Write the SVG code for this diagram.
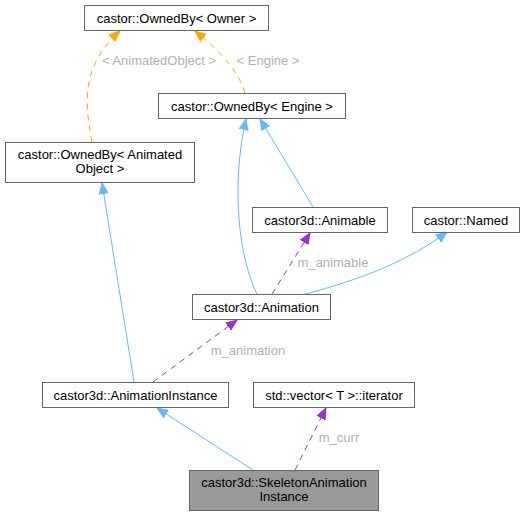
<svg xmlns="http://www.w3.org/2000/svg" width="524" height="516" viewBox="0 0 524 516">
<style>
.n{fill:#fff;stroke:#666;stroke-width:1}
.t{font-family:"Liberation Sans",Arial,sans-serif;font-size:13px;fill:#000;text-anchor:middle}
.l{font-family:"Liberation Sans",Arial,sans-serif;font-size:13px;fill:#b0b0b0;text-anchor:middle}
.b{fill:none;stroke:#63b8ff;stroke-width:1}
.o{fill:none;stroke:#ffa500;stroke-width:1;stroke-dasharray:6,5}
.p{fill:none;stroke:#9a32cd;stroke-width:1;stroke-dasharray:6,5}
</style>
<defs>
<marker id="ab" markerUnits="userSpaceOnUse" markerWidth="12" markerHeight="10" refX="11" refY="5" orient="auto"><path d="M0,0.5 L11,5 L0,9.5 z" fill="#63b8ff" stroke="#63b8ff"/></marker>
<marker id="ao" markerUnits="userSpaceOnUse" markerWidth="12" markerHeight="10" refX="11" refY="5" orient="auto"><path d="M0,0.5 L11,5 L0,9.5 z" fill="#ffa500" stroke="#ffa500"/></marker>
<marker id="ap" markerUnits="userSpaceOnUse" markerWidth="12" markerHeight="10" refX="11" refY="5" orient="auto"><path d="M0,0.5 L11,5 L0,9.5 z" fill="#9a32cd" stroke="#9a32cd"/></marker>
</defs>
<g id="edges">
<path class="o" d="M92,142 C84,100 82,65 120,31" marker-end="url(#ao)"/>
<path class="o" d="M245,93 C240,75 225,55 195,31" marker-end="url(#ao)"/>
<path class="b" d="M257,294 C240,260 230,190 246,119" marker-end="url(#ab)"/>
<path class="b" d="M313,207 L260,119" marker-end="url(#ab)"/>
<path class="b" d="M305,294 C360,280 410,260 447,232" marker-end="url(#ab)"/>
<path class="p" d="M272,294 L310,233" marker-end="url(#ap)"/>
<path class="b" d="M134,382 L102,183" marker-end="url(#ab)"/>
<path class="p" d="M153,382 L237,320" marker-end="url(#ap)"/>
<path class="b" d="M253,470 L157,408" marker-end="url(#ab)"/>
<path class="p" d="M295,470 L326,408" marker-end="url(#ap)"/>
<text class="l" x="159" y="65">&lt; AnimatedObject &gt;</text>
<text class="l" x="268" y="65">&lt; Engine &gt;</text>
<text class="l" x="333" y="267">m_animable</text>
<text class="l" x="248" y="355">m_animation</text>
<text class="l" x="339" y="442">m_curr</text>
</g>
<g id="ownedByOwner"><rect class="n" x="84.5" y="5.5" width="184" height="25"/><text class="t" x="176.5" y="22.5">castor::OwnedBy&lt; Owner &gt;</text></g>
<g id="ownedByEngine"><rect class="n" x="158.5" y="93.5" width="187" height="25"/><text class="t" x="252" y="110.5">castor::OwnedBy&lt; Engine &gt;</text></g>
<g id="ownedByAnimatedObject"><rect class="n" x="5.5" y="142.5" width="189" height="40"/><text class="t" x="100" y="158.5">castor::OwnedBy&lt; Animated</text><text class="t" x="100" y="172.5">Object &gt;</text></g>
<g id="animable"><rect class="n" x="252.5" y="207.5" width="135" height="25"/><text class="t" x="320" y="224.5">castor3d::Animable</text></g>
<g id="named"><rect class="n" x="412.5" y="207.5" width="107" height="25"/><text class="t" x="466" y="224.5">castor::Named</text></g>
<g id="animation"><rect class="n" x="192.5" y="294.5" width="138" height="25"/><text class="t" x="261.5" y="311.5">castor3d::Animation</text></g>
<g id="animationInstance"><rect class="n" x="42.5" y="382.5" width="186" height="25"/><text class="t" x="135.5" y="399.5">castor3d::AnimationInstance</text></g>
<g id="vectorIterator"><rect class="n" x="253.5" y="382.5" width="161" height="25"/><text class="t" x="334" y="399.5">std::vector&lt; T &gt;::iterator</text></g>
<g id="skeletonAnimationInstance"><rect x="189.5" y="470.5" width="189" height="40" fill="#999" stroke="#666"/><text class="t" x="284" y="486.5">castor3d::SkeletonAnimation</text><text class="t" x="284" y="500.5">Instance</text></g>
</svg>
